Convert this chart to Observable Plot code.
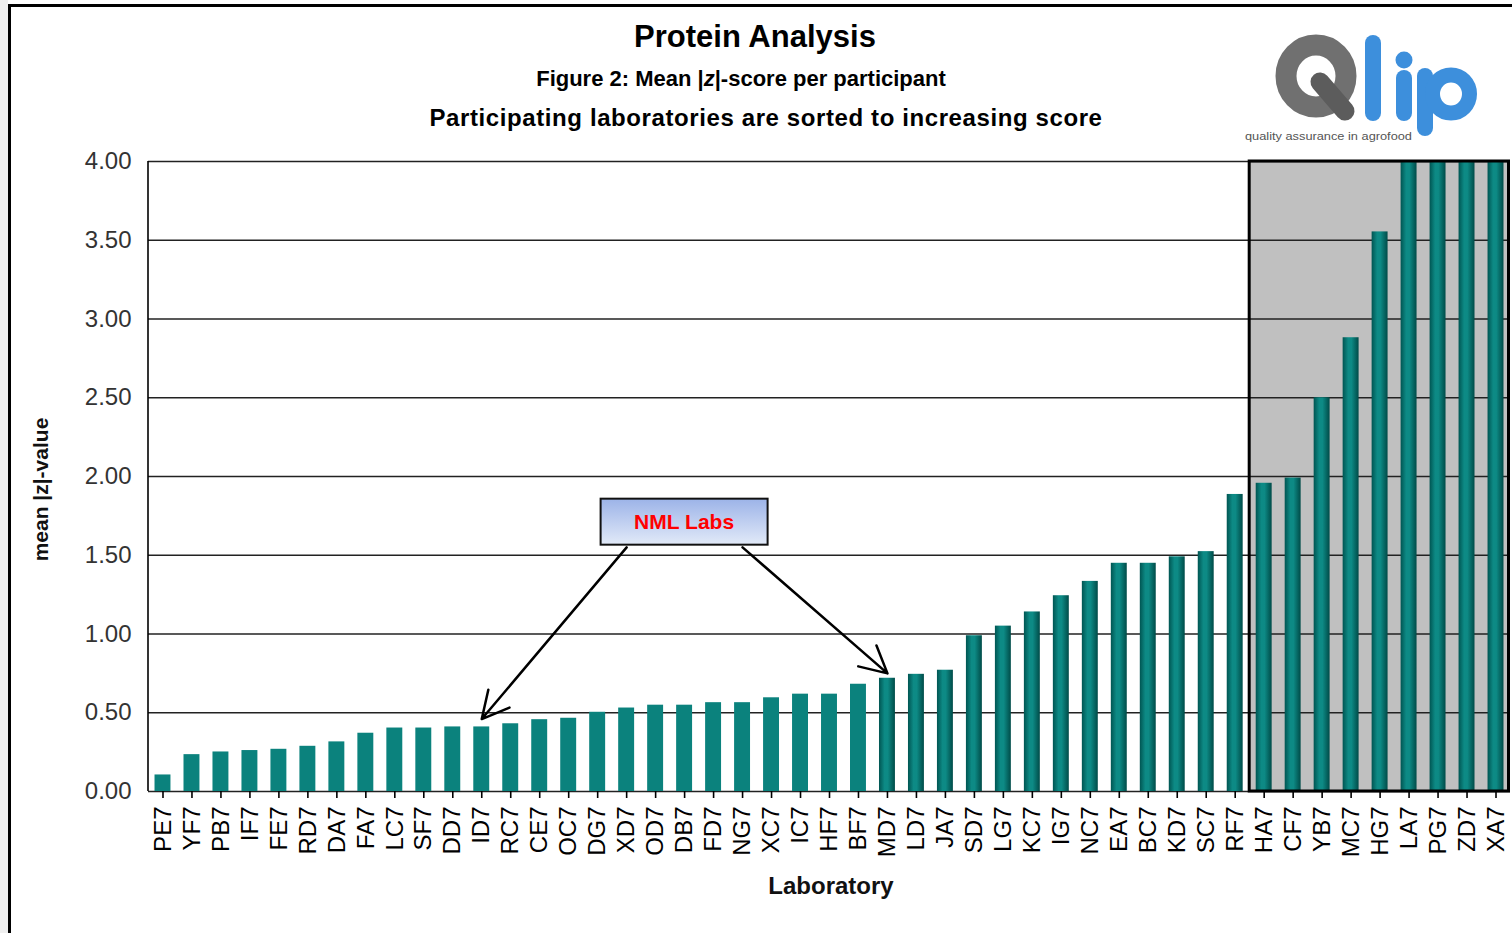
<!DOCTYPE html>
<html>
<head>
<meta charset="utf-8">
<script src="https://cdn.jsdelivr.net/npm/d3@7"></script>
<script src="https://cdn.jsdelivr.net/npm/@observablehq/plot@0.6"></script>
<style>
  html, body { margin: 0; padding: 0; background: #fff; }
  #page { position: relative; width: 1512px; height: 933px; overflow: hidden; font-family: "Liberation Sans", Arial, sans-serif; background: #fff; }
  #strip { position: absolute; left: 0; top: 0; width: 8px; height: 933px; background: #efefef; }
  #border { position: absolute; left: 8px; top: 4px; width: 1600px; height: 1100px; border-left: 3px solid #000; border-top: 3px solid #000; }
  #chart { position: absolute; left: 0; top: 0; }
  .t { position: absolute; text-align: center; font-weight: bold; color: #000; white-space: nowrap; }
  #title { left: 255px; width: 1000px; top: 21px; font-size: 31px; line-height: 31px; }
  #sub1 { left: 241px; width: 1000px; top: 68px; font-size: 22px; line-height: 22px; }
  #sub2 { left: 266px; width: 1000px; top: 106px; font-size: 24px; line-height: 24px; letter-spacing: 0.6px; }
  #xlab { left: 331px; width: 1000px; top: 874px; font-size: 24px; line-height: 24px; color: #111; }
  #ylab { left: -110px; width: 300px; top: 479px; font-size: 21px; line-height: 21px; transform: rotate(-90deg); color: #111; }
  #logo { position: absolute; left: 1240px; top: 20px; }
</style>
</head>
<body>
<div id="page">
  <div id="strip"></div>
  <div id="border"></div>
  <div id="chart"></div>
  <div class="t" id="title">Protein Analysis</div>
  <div class="t" id="sub1">Figure 2: Mean |<i>z</i>|-score per participant</div>
  <div class="t" id="sub2">Participating laboratories are sorted to increasing score</div>
  <div class="t" id="xlab">Laboratory</div>
  <div class="t" id="ylab">mean |z|-value</div>
  <svg id="logo" width="260" height="130" viewBox="1240 20 260 130">
    <ellipse cx="1316" cy="76" rx="30" ry="31" fill="none" stroke="#707070" stroke-width="21"/>
    <line x1="1320" y1="82" x2="1345" y2="111" stroke="#5c5c5c" stroke-width="19" stroke-linecap="round"/>
    <rect x="1365" y="35" width="16" height="86" rx="8" fill="#3d8fdc"/>
    <circle cx="1404" cy="60" r="8.5" fill="#3d8fdc"/>
    <rect x="1396" y="70" width="16" height="51" rx="8" fill="#3d8fdc"/>
    <rect x="1417" y="68" width="16" height="68" rx="8" fill="#3d8fdc"/>
    <ellipse cx="1451" cy="94" rx="18.5" ry="19" fill="none" stroke="#3d8fdc" stroke-width="15"/>
    <text x="1245" y="140" font-size="11" fill="#555" textLength="167" lengthAdjust="spacingAndGlyphs">quality assurance in agrofood</text>
  </svg>
</div>
<script>
// ---- data ----
const labs = ["PE7","YF7","PB7","IF7","FE7","RD7","DA7","FA7","LC7","SF7","DD7","ID7","RC7","CE7","OC7","DG7","XD7","OD7","DB7","FD7","NG7","XC7","IC7","HF7","BF7","MD7","LD7","JA7","SD7","LG7","KC7","IG7","NC7","EA7","BC7","KD7","SC7","RF7","HA7","CF7","YB7","MC7","HG7","LA7","PG7","ZD7","XA7"];
const scores = [0.105,0.234,0.251,0.26,0.268,0.287,0.315,0.37,0.403,0.403,0.41,0.41,0.43,0.456,0.465,0.503,0.53,0.548,0.548,0.564,0.564,0.595,0.618,0.618,0.681,0.719,0.744,0.77,0.989,1.05,1.14,1.243,1.334,1.449,1.449,1.49,1.523,1.886,1.957,1.99,2.5,2.881,3.553,4,4,4,4];
const yTicks = [0, 0.5, 1, 1.5, 2, 2.5, 3, 3.5, 4];
const flaggedLabs = ["HA7","CF7","YB7","MC7","HG7","LA7","PG7","ZD7","XA7"]; // grey zone
const shadedFromLab = "MD7";
const annotationText = "NML Labs";
const annotationAt = "DB7";
const annotationY = 1.71;
const arrowFrom = ["XD7", "NG7"];
const arrowTo = ["ID7", "MD7"];
const arrowFromY = [1.55, 1.55];
const arrowToY = [0.46, 0.75];

const rows = labs.map((lab, i) => ({lab, score: scores[i], shaded: i >= labs.indexOf(shadedFromLab)}));
const arrows = arrowFrom.map((f, i) => ({from: f, to: arrowTo[i], y1: arrowFromY[i], y2: arrowToY[i]}));

function greyZone(part) {
  return (index, scales, values, dims) => {
    const x = scales.x, y = scales.y;
    const x0 = x(flaggedLabs[0]) - x.step() * x.paddingInner() / 2;
    const x1 = dims.width - dims.marginRight - 1.5;
    const y0 = y(4), y1 = y(0);
    const r = d3.create("svg:rect")
      .attr("x", x0).attr("y", y0).attr("width", x1 - x0).attr("height", y1 - y0);
    if (part === "fill") r.attr("fill", "#c0c0c0");
    else r.attr("fill", "none").attr("stroke", "#000").attr("stroke-width", 3);
    return r.node();
  };
}
function leftAxisLine(index, scales, values, dims) {
  return d3.create("svg:line")
    .attr("x1", dims.marginLeft).attr("x2", dims.marginLeft)
    .attr("y1", scales.y(4)).attr("y2", scales.y(0))
    .attr("stroke", "#000").attr("stroke-width", 1.6).node();
}
function annotationBox(index, scales, values, dims) {
  const x = scales.x, y = scales.y;
  const cx = x(annotationAt) + x.bandwidth() / 2, cy = y(annotationY);
  const g = d3.create("svg:g");
  g.append("rect").attr("x", cx - 83.5).attr("y", cy - 23).attr("width", 167).attr("height", 46)
    .attr("fill", "url(#boxShade)").attr("stroke", "#111").attr("stroke-width", 2);
  g.append("text").attr("x", cx).attr("y", cy).attr("dy", "0.36em").attr("text-anchor", "middle")
    .attr("fill", "#ff0000").attr("font-weight", "bold").attr("font-size", 21).text(annotationText);
  return g.node();
}

const chart = Plot.plot({
  width: 1512,
  height: 933,
  marginLeft: 148,
  marginRight: 2,
  marginTop: 161,
  marginBottom: 142,
  style: {fontFamily: "'Liberation Sans', Arial, sans-serif", color: "#000", background: "transparent"},
  x: {type: "band", domain: labs, paddingInner: 0.45, paddingOuter: 0.225, label: null},
  y: {domain: [0, 4], label: null},
  marks: [
    greyZone("fill"),
    Plot.ruleY(yTicks, {stroke: "#222", strokeWidth: 1.6}),
    leftAxisLine,
    Plot.barY(rows.filter(d => !d.shaded), {x: "lab", y: "score", fill: "#0b827d"}),
    Plot.barY(rows.filter(d => d.shaded), {x: "lab", y: "score", fill: "url(#barShade)"}),
    greyZone("stroke"),
    Plot.axisY({ticks: yTicks, tickFormat: d3.format(".2f"), tickSize: 0, tickPadding: 17, fontSize: 24, label: null}),
    Plot.axisX({tickRotate: -90, tickSize: 7, tickPadding: 8, fontSize: 24, strokeWidth: 1.6, label: null}),
    Plot.arrow(arrows, {x1: "from", y1: "y1", x2: "to", y2: "y2", stroke: "#000", strokeWidth: 2.5, headLength: 18, headAngle: 55}),
    annotationBox
  ]
});

const svg = d3.select(chart);
const defs = svg.insert("defs", ":first-child");
const bg = defs.append("linearGradient").attr("id", "barShade").attr("x1", 0).attr("x2", 1).attr("y1", 0).attr("y2", 0);
[["0%", "#005552"], ["35%", "#0d8a85"], ["55%", "#0d8a85"], ["100%", "#004b48"]].forEach(([o, c]) =>
  bg.append("stop").attr("offset", o).attr("stop-color", c));
const bx = defs.append("linearGradient").attr("id", "boxShade").attr("x1", 0).attr("x2", 0).attr("y1", 0).attr("y2", 1);
[["0%", "#9cb3e8"], ["100%", "#e2eaf8"]].forEach(([o, c]) =>
  bx.append("stop").attr("offset", o).attr("stop-color", c));
svg.selectAll('g[aria-label="y-axis tick label"] text').attr("fill", "#333");
svg.selectAll('g[aria-label="y-axis tick label"]').attr("fill", "#333");

document.getElementById("chart").appendChild(chart);
</script>
</body>
</html>
